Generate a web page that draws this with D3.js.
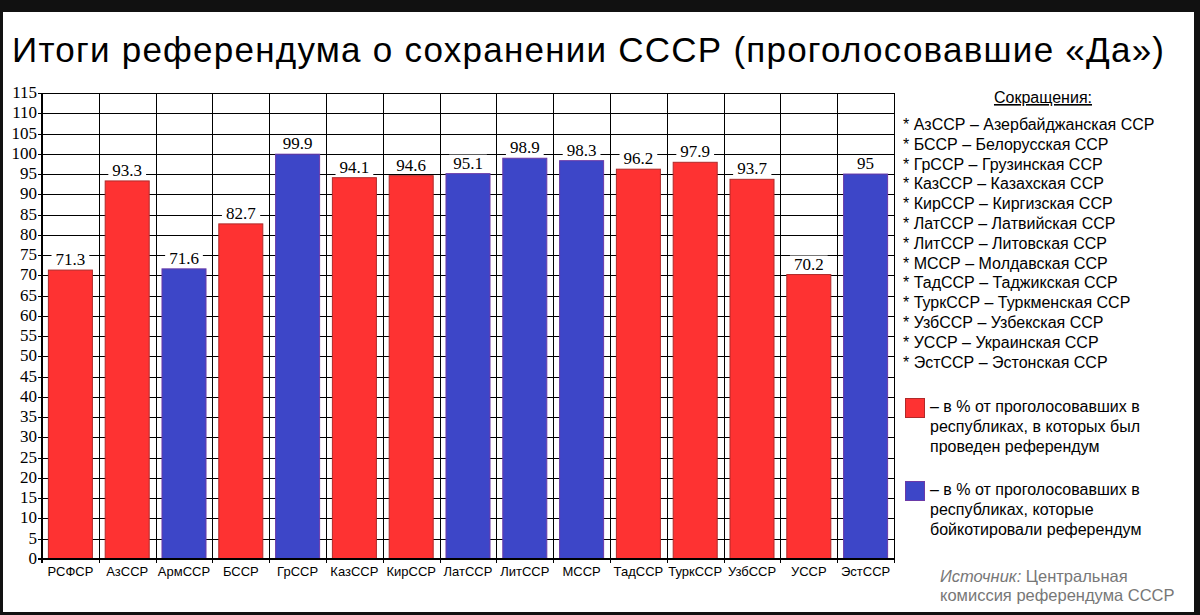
<!DOCTYPE html>
<html>
<head>
<meta charset="utf-8">
<script src="https://cdn.jsdelivr.net/npm/d3@7"></script>
<style>
  body { margin: 0; background: #111; }
  svg { display: block; }
  .serif { font-family: "Liberation Serif", "Times New Roman", "DejaVu Serif", serif; }
  .sans { font-family: "Liberation Sans", Arial, sans-serif; }
</style>
</head>
<body>
<div id="chart"></div>
<script>
const republics = ["РСФСР", "АзССР", "АрмССР", "БССР", "ГрССР", "КазССР", "КирССР", "ЛатССР", "ЛитССР", "МССР", "ТадССР", "ТуркССР", "УзбССР", "УССР", "ЭстССР"];
const yesShare = [71.3, 93.3, 71.6, 82.7, 99.9, 94.1, 94.6, 95.1, 98.9, 98.3, 96.2, 97.9, 93.7, 70.2, 95];
// "held" = референдум проведен, "boycott" = бойкотировали
const groups = ["held", "held", "boycott", "held", "boycott", "held", "held", "boycott", "boycott", "boycott", "held", "held", "held", "held", "boycott"];
const yTicks = d3.range(0, 116, 5);
const abbreviations = [
    "АзССР – Азербайджанская ССР",
    "БССР – Белорусская ССР",
    "ГрССР – Грузинская ССР",
    "КазССР – Казахская ССР",
    "КирССР – Киргизская ССР",
    "ЛатССР – Латвийская ССР",
    "ЛитССР – Литовская ССР",
    "МССР – Молдавская ССР",
    "ТадССР – Таджикская ССР",
    "ТуркССР – Туркменская ССР",
    "УзбССР – Узбекская ССР",
    "УССР – Украинская ССР",
    "ЭстССР – Эстонская ССР"
];
const legendGroups = ["held", "boycott"];
const legendTexts = [
    ["– в % от проголосовавших в", "республиках, в которых был", "проведен референдум"],
    ["– в % от проголосовавших в", "республиках, которые", "бойкотировали референдум"]
];

const width = 1200, height = 615;
const fillColor = { held: "#fe3232", boycott: "#3d46c8" };
const strokeColor = { held: "#b02a2a", boycott: "#6a3aa8" };

const data = republics.map((name, i) => ({ name, value: yesShare[i], group: groups[i] }));

const svg = d3.select("#chart").append("svg")
    .attr("width", width)
    .attr("height", height);

// frame
svg.append("rect").attr("x", 0).attr("y", 0).attr("width", width).attr("height", height).attr("fill", "#111");
svg.append("rect").attr("x", 3).attr("y", 12).attr("width", 1191).attr("height", 600).attr("fill", "#fff");

// title
svg.append("text")
    .attr("class", "sans")
    .attr("x", 12)
    .attr("y", 62)
    .attr("font-size", 35)
    .attr("textLength", 1152)
    .attr("lengthAdjust", "spacing")
    .attr("fill", "#000")
    .text("Итоги референдума о сохранении СССР (проголосовавшие «Да»)");

const margin = { left: 42, right: 894, top: 93, bottom: 559 };

const x = d3.scaleBand()
    .domain(republics)
    .range([margin.left, margin.right])
    .paddingInner(0.225)
    .paddingOuter(0.1125);

const y = d3.scaleLinear()
    .domain([0, 115])
    .range([margin.bottom, margin.top]);

const step = x.step();
const bounds = d3.range(republics.length + 1).map(i => margin.left + i * step);

// grid
svg.append("g")
    .selectAll("line")
    .data(yTicks)
    .join("line")
    .attr("x1", margin.left - 4)
    .attr("x2", margin.right)
    .attr("y1", d => Math.round(y(d)) + 0.5)
    .attr("y2", d => Math.round(y(d)) + 0.5)
    .attr("stroke", "#000")
    .attr("stroke-width", 1);

svg.append("g")
    .selectAll("line")
    .data(bounds)
    .join("line")
    .attr("x1", d => Math.round(d) + 0.5)
    .attr("x2", d => Math.round(d) + 0.5)
    .attr("y1", margin.top)
    .attr("y2", margin.bottom + 4)
    .attr("stroke", "#000")
    .attr("stroke-width", 1);

// y axis labels
svg.append("g")
    .selectAll("text")
    .data(yTicks)
    .join("text")
    .attr("class", "serif")
    .attr("x", 37)
    .attr("y", d => y(d) + 5)
    .attr("text-anchor", "end")
    .attr("font-size", 17)
    .attr("fill", "#000")
    .text(d => d);

// bars
svg.append("g")
    .selectAll("rect")
    .data(data)
    .join("rect")
    .attr("x", d => x(d.name))
    .attr("y", d => y(d.value))
    .attr("width", x.bandwidth())
    .attr("height", d => y(0) - y(d.value))
    .attr("fill", d => fillColor[d.group])
    .attr("stroke", d => strokeColor[d.group])
    .attr("stroke-width", 1);

// axis lines
svg.append("line")
    .attr("x1", margin.left).attr("x2", margin.left)
    .attr("y1", margin.top).attr("y2", margin.bottom + 4)
    .attr("stroke", "#000").attr("stroke-width", 2);
svg.append("line")
    .attr("x1", margin.left - 4).attr("x2", margin.right + 1)
    .attr("y1", margin.bottom).attr("y2", margin.bottom)
    .attr("stroke", "#000").attr("stroke-width", 2);

// value labels with white backing
const labels = svg.append("g")
    .selectAll("g")
    .data(data)
    .join("g")
    .attr("transform", d => `translate(${x(d.name) + x.bandwidth() / 2},${y(d.value) - 5})`);

labels.append("text")
    .attr("class", "serif")
    .attr("text-anchor", "middle")
    .attr("font-size", 17)
    .attr("fill", "#000")
    .text(d => d.value);

labels.each(function() {
    const g = d3.select(this);
    const bb = g.select("text").node().getBBox();
    g.insert("rect", "text")
        .attr("x", bb.x - 4)
        .attr("y", bb.y + 1)
        .attr("width", bb.width + 8)
        .attr("height", bb.height - 2)
        .attr("fill", "#fff");
});

// x labels
svg.append("g")
    .selectAll("text")
    .data(republics)
    .join("text")
    .attr("class", "sans")
    .attr("x", d => x(d) + x.bandwidth() / 2)
    .attr("y", 576)
    .attr("text-anchor", "middle")
    .attr("font-size", 13)
    .attr("fill", "#000")
    .text(d => d);

// abbreviations
svg.append("text")
    .attr("class", "sans")
    .attr("x", 1043)
    .attr("y", 103)
    .attr("text-anchor", "middle")
    .attr("font-size", 16)
    .attr("text-decoration", "underline")
    .attr("fill", "#000")
    .text("Сокращения:");

svg.append("g")
    .selectAll("text")
    .data(abbreviations)
    .join("text")
    .attr("class", "sans")
    .attr("x", 903)
    .attr("y", (d, i) => 130 + i * 19.8)
    .attr("font-size", 16)
    .attr("fill", "#000")
    .text(d => "* " + d);

// colour legend
const legend = svg.append("g")
    .selectAll("g")
    .data(legendGroups)
    .join("g")
    .attr("transform", (d, i) => `translate(905,${398 + i * 83})`);

legend.append("rect")
    .attr("x", 0.5).attr("y", 0.5)
    .attr("width", 19).attr("height", 19)
    .attr("fill", d => fillColor[d])
    .attr("stroke", d => strokeColor[d]);

legend.each(function(d, i) {
    d3.select(this).selectAll("text")
        .data(legendTexts[i])
        .join("text")
        .attr("class", "sans")
        .attr("x", 25)
        .attr("y", (t, j) => 14 + j * 20)
        .attr("font-size", 16)
        .attr("fill", "#000")
        .text(t => t);
});

// source
const src = svg.append("text")
    .attr("class", "sans")
    .attr("x", 940)
    .attr("y", 582)
    .attr("font-size", 16.5)
    .attr("fill", "#777");
src.append("tspan").attr("font-style", "italic").text("Источник:");
src.append("tspan").text(" Центральная");
svg.append("text")
    .attr("class", "sans")
    .attr("x", 940)
    .attr("y", 601)
    .attr("font-size", 16.5)
    .attr("fill", "#777")
    .text("комиссия референдума СССР");
</script>
</body>
</html>
